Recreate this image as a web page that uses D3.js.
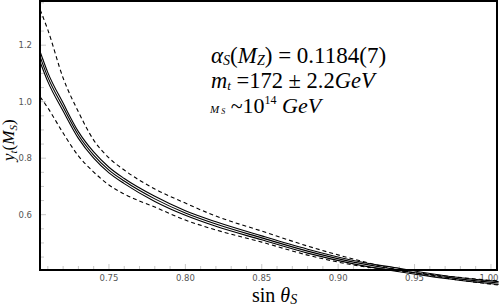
<!DOCTYPE html>
<html lang="en">
<head>
<meta charset="UTF-8">
<title>y_t(M_S) vs sin theta_S</title>
<script src="https://d3js.org/d3.v7.min.js"></script>
<style>
  body { margin: 0; background: #fff; }
  svg { display: block; }
  .tick-label { font-family: "DejaVu Sans", sans-serif; font-size: 8.5px; fill: #555; }
  .serif { font-family: "Liberation Serif", "DejaVu Serif", serif; fill: #000; }
</style>
</head>
<body>
<svg id="chart" width="499" height="308"></svg>
<script>

// sin(theta_S) sample points
const sinTheta = [0.705, 0.71, 0.72, 0.73, 0.74, 0.75, 0.76, 0.78, 0.80, 0.82, 0.85, 0.88, 0.91, 0.94, 0.97, 1.005];

// y_t(M_S): three solid curves (central band) and two dashed curves
const solidHi  = [1.176, 1.103, 0.995, 0.894, 0.822, 0.768, 0.728, 0.665, 0.614, 0.575, 0.525, 0.478, 0.438, 0.410, 0.384, 0.363];
const solidMid = [1.158, 1.087, 0.981, 0.882, 0.811, 0.758, 0.719, 0.656, 0.606, 0.567, 0.518, 0.471, 0.432, 0.404, 0.379, 0.358];
const solidLo  = [1.140, 1.071, 0.967, 0.870, 0.800, 0.748, 0.710, 0.647, 0.598, 0.559, 0.511, 0.464, 0.426, 0.398, 0.374, 0.353];
const dashHi   = [1.325, 1.254, 1.084, 0.964, 0.864, 0.801, 0.758, 0.691, 0.641, 0.595, 0.542, 0.489, 0.443, 0.404, 0.376, 0.351];
const dashLo   = [1.017, 0.978, 0.889, 0.808, 0.751, 0.705, 0.673, 0.627, 0.581, 0.546, 0.503, 0.457, 0.422, 0.401, 0.383, 0.365];

const xMajor = [0.75, 0.80, 0.85, 0.90, 0.95, 1.00];
const yMajor = [0.6, 0.8, 1.0, 1.2];

const svg = d3.select('#chart');

const x = d3.scaleLinear().domain([0.705, 1.005]).range([40.2, 498.6]);
const y = d3.scaleLinear().domain([0.4, 1.355]).range([271.2, 1.4]);

const plotL = 40, plotR = 497, plotT = 1, plotB = 270;

// tick marks (inward, light grey)
const xMinor = d3.range(0.71, 1.0001, 0.01);
svg.append('g').selectAll('line')
  .data(xMinor)
  .join('line')
  .attr('x1', d => x(d)).attr('x2', d => x(d))
  .attr('y1', plotB).attr('y2', d => plotB - (xMajor.some(m => Math.abs(m - d) < 1e-6) ? 6 : 4))
  .attr('stroke', '#c8c8c8').attr('stroke-width', 1);

const yMinor = d3.range(0.45, 1.3501, 0.05);
svg.append('g').selectAll('line')
  .data(yMinor)
  .join('line')
  .attr('y1', d => y(d)).attr('y2', d => y(d))
  .attr('x1', plotL).attr('x2', d => plotL + (yMajor.some(m => Math.abs(m - d) < 1e-6) ? 6 : 4))
  .attr('stroke', '#c8c8c8').attr('stroke-width', 1);

// tick labels
svg.append('g').selectAll('text')
  .data(xMajor)
  .join('text')
  .attr('class', 'tick-label')
  .attr('x', d => Math.min(x(d), 489)).attr('y', 281)
  .attr('text-anchor', 'middle')
  .text(d => d.toFixed(2));

svg.append('g').selectAll('text')
  .data(yMajor)
  .join('text')
  .attr('class', 'tick-label')
  .attr('x', 32).attr('y', d => y(d) + 3)
  .attr('text-anchor', 'end')
  .text(d => d.toFixed(1));

// curves
const line = d3.line()
  .x((d, i) => x(sinTheta[i]))
  .y(d => y(d))
  .curve(d3.curveMonotoneX);

[solidHi, solidMid, solidLo].forEach(s => {
  svg.append('path').datum(s)
    .attr('d', line)
    .attr('fill', 'none').attr('stroke', '#000').attr('stroke-width', 1.1);
});
[dashHi, dashLo].forEach(s => {
  svg.append('path').datum(s)
    .attr('d', line)
    .attr('fill', 'none').attr('stroke', '#000').attr('stroke-width', 1.1)
    .attr('stroke-dasharray', '4,3');
});

// frame
svg.append('rect')
  .attr('x', plotL).attr('y', plotT)
  .attr('width', plotR - plotL).attr('height', plotB - plotT)
  .attr('fill', 'none').attr('stroke', '#000').attr('stroke-width', 2);

// axis titles
const xt = svg.append('text').attr('class', 'serif')
  .attr('x', 252).attr('y', 302).attr('font-size', 20);
xt.append('tspan').text('sin ');
xt.append('tspan').attr('font-style', 'italic').text('θ');
xt.append('tspan').attr('font-style', 'italic').attr('font-size', 14).attr('dy', 2).text('S');

const yt = svg.append('text').attr('class', 'serif')
  .attr('transform', 'translate(14,161) rotate(-90)')
  .attr('font-size', 17).attr('font-style', 'italic');
yt.append('tspan').text('y');
yt.append('tspan').attr('font-size', 11).attr('dy', 3).text('t');
yt.append('tspan').attr('font-style', 'normal').attr('dy', -3).text('(');
yt.append('tspan').text('M');
yt.append('tspan').attr('font-size', 11).attr('dy', 3).text('S');
yt.append('tspan').attr('font-style', 'normal').attr('dy', -3).text(')');

// annotations
const a1 = svg.append('text').attr('class', 'serif')
  .attr('x', 211).attr('y', 63).attr('font-size', 23);
a1.append('tspan').attr('font-style', 'italic').text('α');
a1.append('tspan').attr('font-style', 'italic').attr('font-size', 14).attr('dy', 2).text('S');
a1.append('tspan').attr('dy', -2).text('(');
a1.append('tspan').attr('font-style', 'italic').text('M');
a1.append('tspan').attr('font-style', 'italic').attr('font-size', 14).attr('dy', 2).text('Z');
a1.append('tspan').attr('dy', -2).text(') = 0.1184(7)');

const a2 = svg.append('text').attr('class', 'serif')
  .attr('x', 211).attr('y', 88).attr('font-size', 22.5);
a2.append('tspan').attr('font-style', 'italic').text('m');
a2.append('tspan').attr('font-style', 'italic').attr('font-size', 13).attr('dy', 2).text('t');
a2.append('tspan').attr('dy', -2).text(' =172 ± 2.2');
a2.append('tspan').attr('font-style', 'italic').text('GeV');

const a3 = svg.append('text').attr('class', 'serif')
  .attr('x', 210).attr('y', 113).attr('font-size', 22);
a3.append('tspan').attr('font-style', 'italic').attr('font-size', 11).text('M');
a3.append('tspan').attr('font-style', 'italic').attr('font-size', 8).attr('dy', 1).text(' S');
a3.append('tspan').attr('dy', -1).text(' ~10');
a3.append('tspan').attr('font-size', 12).attr('dy', -9).text('14');
a3.append('tspan').attr('font-style', 'italic').attr('dy', 9).text(' GeV');

</script>
</body>
</html>
